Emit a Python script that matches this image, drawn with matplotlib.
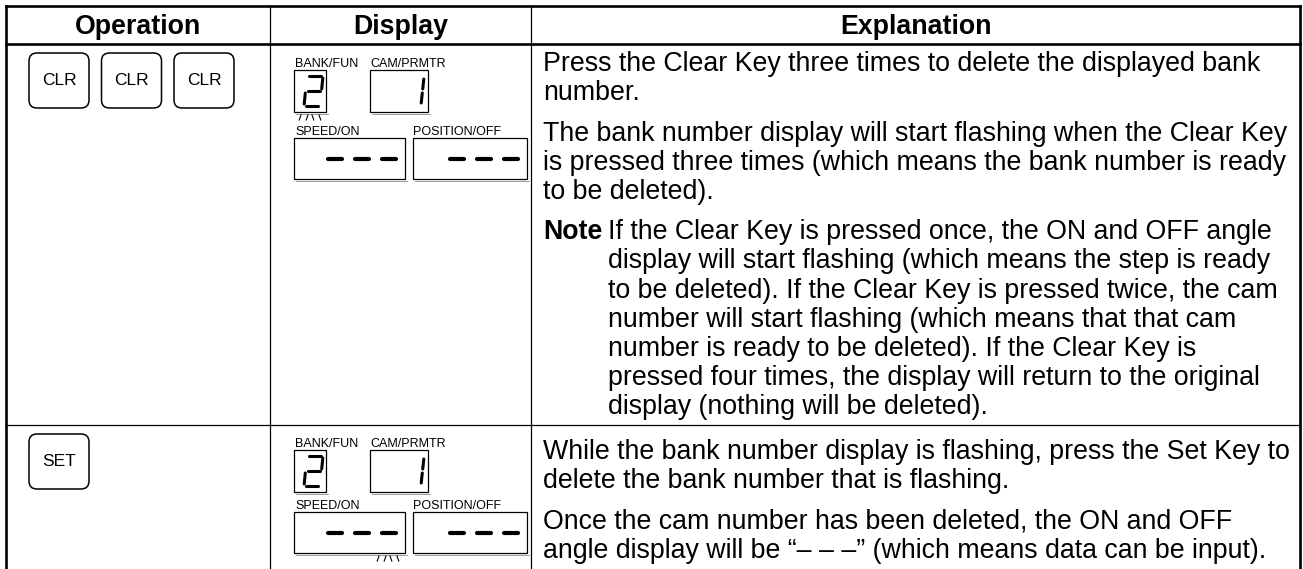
import matplotlib.pyplot as plt
from matplotlib.patches import Rectangle, FancyBboxPatch

plt.rcParams['font.family'] = ['Liberation Sans', 'DejaVu Sans']

# ---------------------------------
# Table content
# ---------------------------------

headers = ["Operation", "Display", "Explanation"]

# keys pressed in each row
row_keys = [["CLR", "CLR", "CLR"], ["SET"]]

# what the display shows in each row
display_labels = ["BANK/FUN", "CAM/PRMTR", "SPEED/ON", "POSITION/OFF"]
bank_digits = ["2", "2"]
cam_digits = ["1", "1"]
speed_digits = ["---", "---"]
position_digits = ["---", "---"]
flashing = ["bank", "speed"]

# explanation text, one list of paragraphs per row, lines as printed
row1_paragraphs = [
    ["Press the Clear Key three times to delete the displayed bank",
     "number."],
    ["The bank number display will start flashing when the Clear Key",
     "is pressed three times (which means the bank number is ready",
     "to be deleted)."],
]
note_lines = [
    "If the Clear Key is pressed once, the ON and OFF angle",
    "display will start flashing (which means the step is ready",
    "to be deleted). If the Clear Key is pressed twice, the cam",
    "number will start flashing (which means that that cam",
    "number is ready to be deleted). If the Clear Key is",
    "pressed four times, the display will return to the original",
    "display (nothing will be deleted).",
]
row2_paragraphs = [
    ["While the bank number display is flashing, press the Set Key to",
     "delete the bank number that is flashing."],
    ["Once the cam number has been deleted, the ON and OFF",
     "angle display will be \u201c\u2013 \u2013 \u2013\u201d (which means data can be input)."],
]

# seven segment shapes
SEGMENTS = {"2": "abged", "1": "bc", "-": "g"}
SEG_POS = {
    "a": ((0, 0), (1, 0)), "b": ((1, 0), (1, 0.5)), "c": ((1, 0.5), (1, 1)),
    "d": ((0, 1), (1, 1)), "e": ((0, 0.5), (0, 1)), "f": ((0, 0), (0, 0.5)),
    "g": ((0, 0.5), (1, 0.5)),
}

# ---------------------------------
# Layout (pixels)
# ---------------------------------

W, H = 1303, 569
col_x = [6, 270, 531, 1300]
row_y = [6, 44, 425, 569]
BODY = 19.3
PITCH = 29.2
PARA_GAP = 11
BASE = 9.7

fig = plt.figure(figsize=(W / 100, H / 100), dpi=100)
ax = fig.add_axes([0, 0, 1, 1])
ax.set_xlim(0, W)
ax.set_ylim(H, 0)
ax.axis("off")


def seven_seg(text, x_right, y_top, w, h, pitch, lw, slant=3, gap=2):
    for i, ch in enumerate(reversed(text)):
        x0 = x_right - w - i * pitch
        for s in SEGMENTS[ch]:
            (u1, v1), (u2, v2) = SEG_POS[s]
            xa, ya = x0 + u1 * w, y_top + v1 * h
            xb, yb = x0 + u2 * w, y_top + v2 * h
            dx, dy = xb - xa, yb - ya
            length = (dx ** 2 + dy ** 2) ** 0.5
            ux, uy = dx / length, dy / length
            xa, ya = xa + ux * gap, ya + uy * gap
            xb, yb = xb - ux * gap, yb - uy * gap
            xa += slant * (y_top + h - ya) / h
            xb += slant * (y_top + h - yb) / h
            ax.plot([xa, xb], [ya, yb], color="black", lw=lw,
                    solid_capstyle="round")


def flash_marks(xc, y_top):
    for k, off in enumerate([-10.5, -3.5, 3.5, 10.5]):
        lean = -1.5 if k < 2 else 1.5
        ax.plot([xc + off - lean, xc + off + lean * 0.2], [y_top, y_top + 5],
                color="black", lw=0.8)


def display_box(x0, x1, y0, y1):
    ax.add_patch(Rectangle((x0, y0), x1 - x0, y1 - y0, fill=False,
                           ec="black", lw=0.9))
    ax.plot([x0 + 2, x1 + 1.5], [y1 + 1.5, y1 + 1.5], color="0.55", lw=0.6)


def write_lines(lines, x, y):
    for line in lines:
        ax.text(x, y + BASE, line, fontsize=BODY, va="baseline")
        y += PITCH
    return y


# ---------------------------------
# Grid lines
# ---------------------------------

thick = 1.9
thin = 0.9
ax.plot([col_x[0], col_x[3]], [row_y[0], row_y[0]], color="black", lw=thick)
ax.plot([col_x[0], col_x[3]], [row_y[1], row_y[1]], color="black", lw=thick)
ax.plot([col_x[0], col_x[3]], [row_y[2], row_y[2]], color="black", lw=thin)
ax.plot([col_x[0], col_x[0]], [row_y[0], H], color="black", lw=thick)
ax.plot([col_x[3], col_x[3]], [row_y[0], H], color="black", lw=thick)
ax.plot([col_x[1], col_x[1]], [row_y[0], H], color="black", lw=thin)
ax.plot([col_x[2], col_x[2]], [row_y[0], H], color="black", lw=thin)

for i, name in enumerate(headers):
    ax.text((col_x[i] + col_x[i + 1]) / 2, 34, name, ha="center",
            va="baseline", fontsize=BODY, fontweight="bold")

# ---------------------------------
# Operation column
# ---------------------------------

key_w, key_h, key_step = 60, 55, 72.5
for r, keys in enumerate(row_keys):
    top = row_y[r + 1] + 9
    for k, key in enumerate(keys):
        x0 = 29 + k * key_step
        ax.add_patch(FancyBboxPatch((x0, top), key_w, key_h,
                                    boxstyle="round,pad=0,rounding_size=8",
                                    fill=False, ec="black", lw=1.1))
        ax.text(x0 + key_w / 2, top + key_h / 2 + 4.5, key, ha="center",
                va="baseline", fontsize=12.5)

# ---------------------------------
# Display column
# ---------------------------------

label_y = [62, 442]
speed_label_y = [130, 504]
for r in range(2):
    ly = label_y[r]
    ax.text(295, ly + 4.5, display_labels[0], fontsize=9, va="baseline")
    ax.text(370, ly + 4.5, display_labels[1], fontsize=9, va="baseline")
    by0, by1 = ly + 8, ly + 50
    display_box(294, 326, by0, by1)
    display_box(370, 428, by0, by1)
    seven_seg(bank_digits[r], 320, by0 + 6, 16, 30, 27, 2.2)
    seven_seg(cam_digits[r], 421, by0 + 7, 16, 28, 27, 2.2)

    sy = speed_label_y[r]
    ax.text(295, sy + 4.5, display_labels[2], fontsize=9, va="baseline")
    ax.text(413, sy + 4.5, display_labels[3], fontsize=9, va="baseline")
    sy0, sy1 = sy + 8, sy + 49
    display_box(294, 405, sy0, sy1)
    display_box(413, 527, sy0, sy1)
    seven_seg(speed_digits[r], 396, sy0, 14, 41, 27, 3.0, slant=0, gap=0)
    seven_seg(position_digits[r], 518, sy0, 14, 41, 27, 3.0, slant=0, gap=0)

    if flashing[r] == "bank":
        flash_marks(310, by1 + 3)
    else:
        flash_marks(388, sy1 + 3)

# ---------------------------------
# Explanation column
# ---------------------------------

text_x = 543
note_x = 608

y = 61.5
for para in row1_paragraphs:
    y = write_lines(para, text_x, y) + PARA_GAP
ax.text(text_x, y + BASE, "Note", fontsize=BODY, fontweight="bold",
        va="baseline")
write_lines(note_lines, note_x, y)

y = 449.5
for para in row2_paragraphs:
    y = write_lines(para, text_x, y) + PARA_GAP

plt.savefig("out.png", dpi=100)
plt.close()
